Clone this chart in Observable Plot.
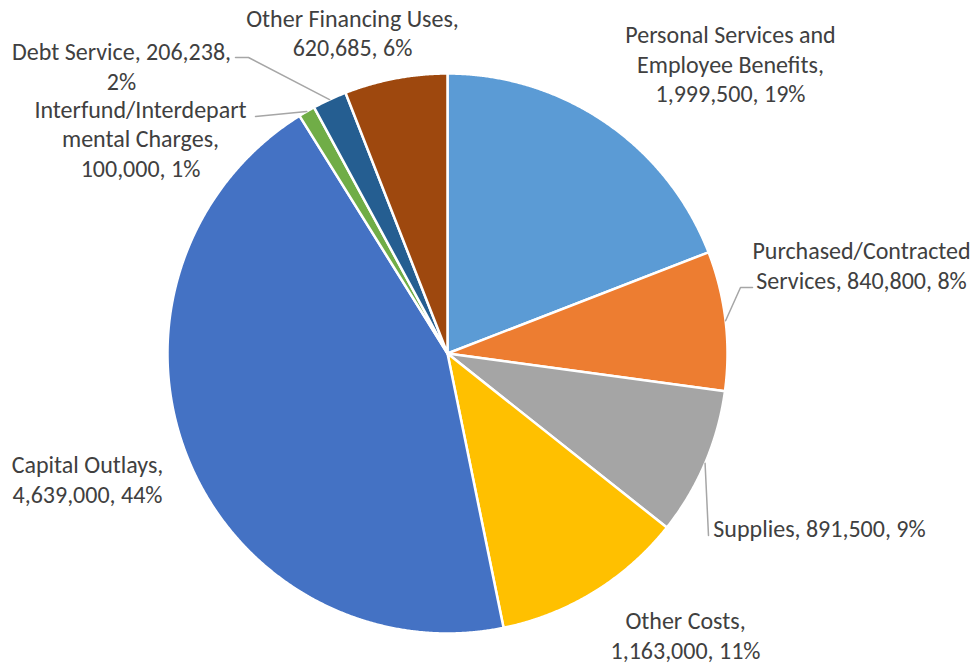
<!DOCTYPE html>
<html><head><meta charset="utf-8">
<script src="https://cdn.jsdelivr.net/npm/d3@7"></script>
<script src="https://cdn.jsdelivr.net/npm/@observablehq/plot@0.6"></script>
<style>body{margin:0;background:#fff;} #chart{width:976px;height:665px;}</style>
</head><body><div id="chart"></div>
<script>
// ---- data ----
const categories = [
  "Personal Services and Employee Benefits",
  "Purchased/Contracted Services",
  "Supplies",
  "Other Costs",
  "Capital Outlays",
  "Interfund/Interdepartmental Charges",
  "Debt Service",
  "Other Financing Uses"
];
const values = [1999500, 840800, 891500, 1163000, 4639000, 100000, 206238, 620685];
const colors = ["#5B9BD5", "#ED7D31", "#A5A5A5", "#FFC000", "#4472C4", "#70AD47", "#255E91", "#9E480E"];
// how each label wraps ({v} = value, {p} = percent)
const labelTemplates = [
  "Personal Services and\nEmployee Benefits,\n{v}, {p}",
  "Purchased/Contracted\nServices, {v}, {p}",
  "Supplies, {v}, {p}",
  "Other Costs,\n{v}, {p}",
  "Capital Outlays,\n{v}, {p}",
  "Interfund/Interdepart\nmental Charges,\n{v}, {p}",
  "Debt Service, {v},\n{p}",
  "Other Financing Uses,\n{v}, {p}"
];

// ---- layout (px relative to pie centre, y up) ----
const R = 280;
const labelPos = [
  [283, 290], [414, 89], [372, -174], [238, -281],
  [-360, -125], [-307, 215.5], [-326, 288], [-95, 321.5]
];
const leaders = [
  {i: 1, pts: [[293, 66], [305, 66]]},
  {i: 2, pts: [[261, -182]]},
  {i: 5, pts: [[-192, 237]]},
  {i: 6, pts: [[-199, 296], [-212, 296]]}
];

const total = d3.sum(values);
const fmt = d3.format(",");
const pie = d3.pie().sort(null).value(d => d)(values);
const pt = (a, r) => [r * Math.sin(a), r * Math.cos(a)];

const slicePts = [];
pie.forEach((s, i) => {
  const n = Math.max(2, Math.ceil((s.endAngle - s.startAngle) / (Math.PI / 720)));
  slicePts.push({k: i, x: 0, y: 0, color: colors[i]});
  for (let j = 0; j <= n; j++) {
    const a = s.startAngle + (s.endAngle - s.startAngle) * j / n;
    const [x, y] = pt(a, R);
    slicePts.push({k: i, x, y, color: colors[i]});
  }
  slicePts.push({k: i, x: 0, y: 0, color: colors[i]});
});

const leaderPts = [];
leaders.forEach(l => {
  const s = pie[l.i];
  const [x0, y0] = pt((s.startAngle + s.endAngle) / 2, R);
  leaderPts.push({k: l.i, x: x0, y: y0});
  l.pts.forEach(([x, y]) => leaderPts.push({k: l.i, x, y}));
});

const labels = categories.map((c, i) => ({
  x: labelPos[i][0], y: labelPos[i][1],
  text: labelTemplates[i].replace("{v}", fmt(values[i])).replace("{p}", Math.round(values[i] / total * 100) + "%")
}));

const chart = Plot.plot({
  width: 976, height: 665,
  margin: 0,
  x: {domain: [-447, 529], axis: null},
  y: {domain: [-312, 353], axis: null},
  color: {type: "identity"},
  style: {background: "#fff"},
  marks: [
    Plot.line(slicePts, {x: "x", y: "y", z: "k", fill: "color", stroke: "#fff", strokeWidth: 2.5, strokeLinejoin: "round", curve: "linear"}),
    Plot.line(leaderPts, {x: "x", y: "y", z: "k", stroke: "#A6A6A6", strokeWidth: 1.5}),
    Plot.text(labels, {x: "x", y: "y", text: "text", fontSize: 24, lineHeight: 1.23, fill: "#404040",
      fontFamily: "Carlito, Calibri, Lato, sans-serif"})
  ]
});
document.getElementById("chart").appendChild(chart);
</script>
</body></html>
